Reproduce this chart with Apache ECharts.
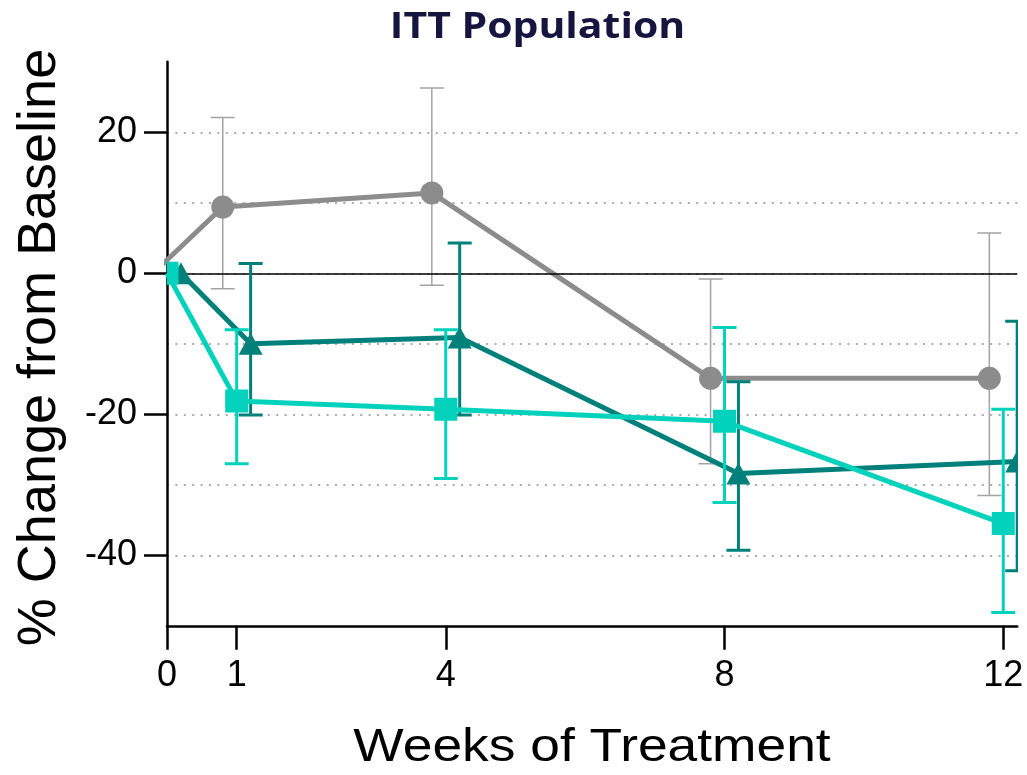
<!DOCTYPE html>
<html>
<head>
<meta charset="utf-8">
<title>ITT Population</title>
<script src="https://cdn.jsdelivr.net/npm/echarts@6/dist/echarts.min.js"></script>
<style>
  html, body { margin: 0; padding: 0; background: #ffffff; }
  #chart { width: 1027px; height: 775px; }
</style>
</head>
<body>
<div id="chart"></div>
<script>
// Visit weeks and tick labels
const weeks = [0, 1, 4, 8, 12];
const xTickValues = [0, 1, 4, 8, 12];
const yTickValues = [-40, -20, 0, 20];

// Grey arm (circles)
const greyMean  = [0, 9.4, 11.4, -14.9, -14.9];
const greyLower = [null, -2.2, -1.7, -27.0, -31.5];
const greyUpper = [null, 22.1, 26.3, -0.8, 5.7];

// Dark teal arm (triangles)
const tealMean  = [0, -10.0, -9.1, -28.4, -26.7];
const tealLower = [null, -20.1, -20.1, -39.3, -42.2];
const tealUpper = [null, 1.4, 4.3, -15.4, -6.8];

// Turquoise arm (squares)
const aquaMean  = [0, -18.1, -19.3, -21.0, -35.5];
const aquaLower = [null, -27.0, -29.1, -32.5, -48.1];
const aquaUpper = [null, -8.0, -8.0, -7.7, -19.3];

const GREY = '#8c8c8c', GREY_BAR = '#a3a3a3';
const TEAL = '#00807a';
const AQUA = '#02d2bc';

function lineData(mean, shift) {
  return weeks.map((w, i) => [w + shift, mean[i]]);
}
function barData(mean, lower, upper, shift) {
  return weeks.map((w, i) => [w + shift,
    lower[i] == null ? NaN : lower[i],
    upper[i] == null ? NaN : upper[i],
    mean[i]]);
}

// Error bar with caps plus the group's marker, drawn in data coordinates
function makeRenderer(color, barWidth, marker) {
  const capHalf = 12;
  const size = 23;
  return function (params, api) {
    const x = api.value(0);
    const lo = api.value(1);
    const hi = api.value(2);
    const m = api.value(3);
    const children = [];
    const barStyle = { stroke: color, lineWidth: barWidth, fill: null };
    if (!isNaN(lo) && !isNaN(hi)) {
      const pLo = api.coord([x, lo]);
      const pHi = api.coord([x, hi]);
      children.push({ type: 'line', shape: { x1: pLo[0], y1: pLo[1], x2: pHi[0], y2: pHi[1] }, style: barStyle });
      children.push({ type: 'line', shape: { x1: pLo[0] - capHalf, y1: pLo[1], x2: pLo[0] + capHalf, y2: pLo[1] }, style: barStyle });
      children.push({ type: 'line', shape: { x1: pHi[0] - capHalf, y1: pHi[1], x2: pHi[0] + capHalf, y2: pHi[1] }, style: barStyle });
    }
    const p = api.coord([x, m]);
    const fill = { fill: marker.color, stroke: null };
    if (marker.shape === 'circle') {
      children.push({ type: 'circle', shape: { cx: p[0], cy: p[1], r: size / 2 }, style: fill });
    } else if (marker.shape === 'square') {
      children.push({ type: 'rect', shape: { x: p[0] - size / 2, y: p[1] - size / 2, width: size, height: size }, style: fill });
    } else {
      const h = 22, w = 24;
      children.push({ type: 'polygon', shape: { points: [[p[0], p[1] - h / 2], [p[0] + w / 2, p[1] + h / 2], [p[0] - w / 2, p[1] + h / 2]] }, style: fill });
    }
    return { type: 'group', children: children };
  };
}

const groups = [
  { name: 'Arm A', mean: greyMean, lower: greyLower, upper: greyUpper, shift: -0.2, line: GREY, bar: GREY_BAR, barW: 1.5, shape: 'circle' },
  { name: 'Arm B', mean: tealMean, lower: tealLower, upper: tealUpper, shift: 0.2, line: TEAL, bar: TEAL, barW: 3, shape: 'triangle' },
  { name: 'Arm C', mean: aquaMean, lower: aquaLower, upper: aquaUpper, shift: 0, line: AQUA, bar: AQUA, barW: 3, shape: 'square' }
];

const series = [];
// Zero reference line
series.push({
  type: 'line', data: [], silent: true, z: 1,
  markLine: {
    silent: true, symbol: 'none', label: { show: false },
    lineStyle: { color: '#000000', width: 1.5, type: 'solid' },
    data: [{ yAxis: 0 }]
  }
});
groups.forEach((g, k) => {
  series.push({
    name: g.name, type: 'line', clip: true, z: 2 + k * 2,
    data: lineData(g.mean, g.shift),
    showSymbol: false, symbol: 'none',
    lineStyle: { color: g.line, width: 5 },
    itemStyle: { color: g.line },
    animation: false
  });
  series.push({
    name: g.name, type: 'custom', clip: true, z: 3 + k * 2,
    data: barData(g.mean, g.lower, g.upper, g.shift),
    encode: { x: 0, y: 3 },
    renderItem: makeRenderer(g.bar, g.barW, { shape: g.shape, color: g.line }),
    animation: false
  });
});

const chart = echarts.init(document.getElementById('chart'), null, { renderer: 'canvas' });
chart.setOption({
  animation: false,
  backgroundColor: '#ffffff',
  graphic: [{
    type: 'text', x: 537.5, y: 28, scaleX: 1.17, silent: true,
    style: { text: 'ITT Population', fontFamily: 'Open Sans', fontWeight: 'bold', fontSize: 35,
             fill: '#15153f', align: 'center', verticalAlign: 'middle' }
  }, {
    type: 'text', x: 592, y: 748.5, scaleX: 1.135, silent: true,
    style: { text: 'Weeks of Treatment', fontFamily: 'Liberation Sans', fontSize: 47,
             fill: '#000000', align: 'center', verticalAlign: 'middle' }
  }, {
    type: 'text', x: 40.5, y: 347.5, rotation: Math.PI / 2, silent: true,
    style: { text: '% Change from Baseline', fontFamily: 'Liberation Sans', fontSize: 54,
             fill: '#000000', align: 'center', verticalAlign: 'middle' }
  }],
  grid: { left: 167, top: 61.8, width: 850.2, height: 564, containLabel: false, outerBoundsMode: 'none' },
  xAxis: {
    type: 'value', min: 0, max: 12.2,
    axisLine: { show: true, onZero: false, lineStyle: { color: '#000000', width: 2.5 } },
    axisTick: { show: true, customValues: xTickValues, length: 24, lineStyle: { color: '#000000', width: 2.5 } },
    axisLabel: { customValues: xTickValues, margin: 32, fontFamily: 'Liberation Sans', fontSize: 36, color: '#000000' },
    splitLine: { show: false }
  },
  yAxis: [{
    type: 'value', min: -50, max: 30,
    axisLine: { show: true, onZero: false, lineStyle: { color: '#000000', width: 2.5 } },
    axisTick: { show: true, customValues: yTickValues, length: 23, lineStyle: { color: '#000000', width: 2.5 } },
    axisLabel: { customValues: yTickValues, margin: 30, fontFamily: 'Liberation Sans', fontSize: 36, color: '#000000' },
    splitLine: { show: false }
  }, {
    type: 'value', min: -50, max: 30, interval: 10, position: 'left',
    axisLine: { show: false }, axisTick: { show: false }, axisLabel: { show: false },
    splitLine: {
      show: true, showMinLine: false, showMaxLine: false,
      lineStyle: { color: '#ababab', width: 2, type: [2, 6.4] }
    }
  }],
  series: series
});
</script>
</body>
</html>
